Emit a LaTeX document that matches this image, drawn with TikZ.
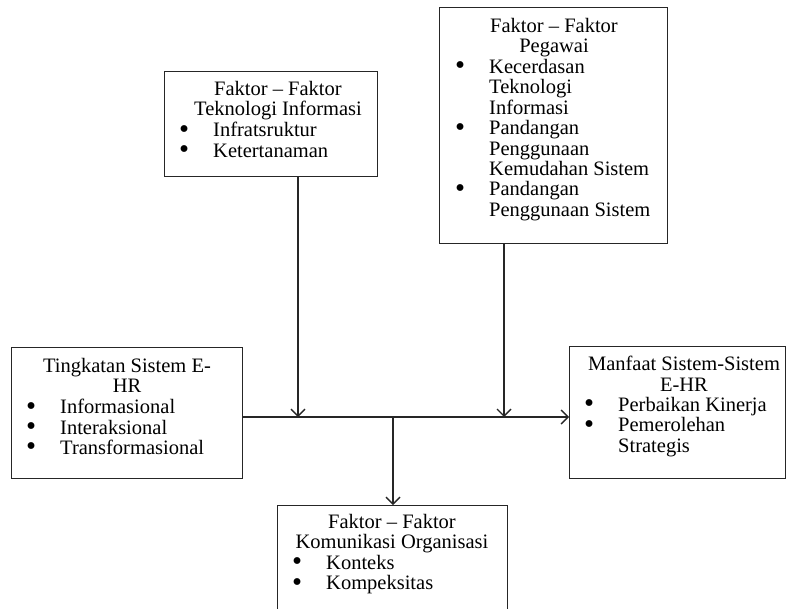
\documentclass[tikz,border=0pt]{standalone}
\usepackage{fontspec}
\setmainfont{Liberation Serif}
\usetikzlibrary{arrows.meta}
\newcommand{\fs}{\fontsize{20.5}{20.4}\selectfont}
\newcommand{\bu}{\makebox[34pt][l]{\raisebox{-1.5pt}{\scalebox{1.4}{\textbullet}}}}
\newcommand{\bn}{\hspace*{34pt}}
\begin{document}
\begin{tikzpicture}[x=1pt,y=1pt,
 box/.style={draw=black!85, line width=1.4pt, anchor=north west, inner sep=0pt},
 ttl/.style={anchor=north, inner sep=0pt, align=center, font=\fs},
 lst/.style={anchor=north west, inner sep=0pt, align=left, font=\fs},
 conn/.style={line width=1.4pt, draw=black!85},
 arr/.style={conn, -{Straight Barb[length=7pt,width=14pt]}}]
\useasboundingbox (0,0) rectangle (787,-608);
% boxes
\node[box, minimum width=213, minimum height=105] (b1) at (164,-71) {};
\node[box, minimum width=228, minimum height=236] (b2) at (439,-7) {};
\node[box, minimum width=231, minimum height=131] (b3) at (11,-347) {};
\node[box, minimum width=216, minimum height=132] (b4) at (569,-346) {};
\node[box, minimum width=230, minimum height=105] (b5) at (277,-505) {};
% texts
\node[ttl] (t1) at (278,-81) {Faktor -- Faktor\\Teknologi Informasi};
\node[lst] (l1) at (179,-122) {\bu Infratsruktur\\ \bu Ketertanaman};
\node[ttl] (t2) at (554,-18) {Faktor -- Faktor\\Pegawai};
\node[lst] (l2) at (455,-59) {\bu Kecerdasan\\ \bn Teknologi\\ \bn Informasi\\ \bu Pandangan\\ \bn Penggunaan\\ \bn Kemudahan Sistem\\ \bu Pandangan\\ \bn Penggunaan Sistem};
\node[ttl] (t3) at (127,-358) {Tingkatan Sistem E-\\HR};
\node[lst] (l3) at (26,-399) {\bu Informasional\\ \bu Interaksional\\ \bu Transformasional};
\node[ttl] (t4) at (684,-356) {Manfaat Sistem-Sistem\\E-HR};
\node[lst] (l4) at (584,-397) {\bu Perbaikan Kinerja\\ \bu Pemerolehan\\ \bn Strategis};
\node[ttl] (t5) at (392,-514) {Faktor -- Faktor\\Komunikasi Organisasi};
\node[lst] (l5) at (292,-555) {\bu Konteks\\ \bu Kompeksitas};
% connectors
\coordinate (jy) at (0,-417);
\coordinate (p1) at (298,-417);
\coordinate (p2) at (504,-417);
\coordinate (p3) at (393,-417);
\draw[arr] (b3.east |- jy) -- (b4.west |- jy);
\draw[arr] (b1.south -| p1) -- (p1);
\draw[arr] (b2.south -| p2) -- (p2);
\draw[arr] (p3) -- (b5.north -| p3);
\end{tikzpicture}
\end{document}
